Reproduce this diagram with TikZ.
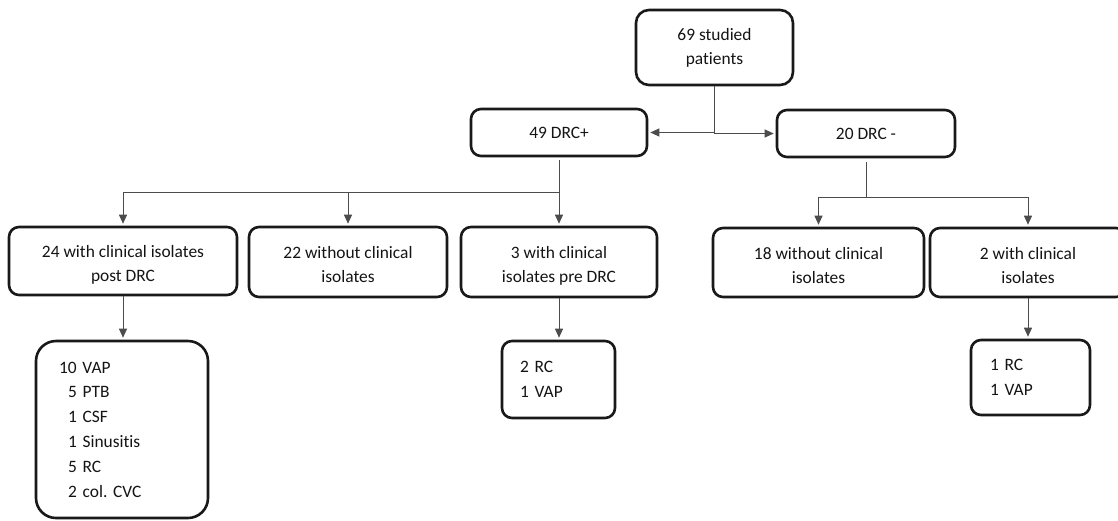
\documentclass[tikz,border=0pt]{standalone}
\usepackage{fontspec}
\setmainfont{Carlito}[Ligatures={NoCommon}]
\usetikzlibrary{arrows.meta}
\frenchspacing
\begin{document}
\begin{tikzpicture}[x=1pt,y=-1pt,
  box/.style={draw=black!90, line width=2.6pt, rounded corners=10pt, text=black!92,
    align=center, inner sep=0pt, font=\fontsize{17.4}{24}\selectfont},
  twoline/.style={box, text height=45pt, text depth=3.5pt},
  listbox/.style={box, align=left, font=\fontsize{17.4}{24.8}\selectfont},
  conn/.style={draw=black!70, line width=1pt},
  arr/.style={conn, -{Triangle[length=9pt,width=8pt]}, shorten >=2pt}]
\useasboundingbox[fill=white] (0,0) rectangle (1118,520);

% level 0
\node[box, rounded corners=13pt, minimum width=157pt, minimum height=75pt] (top) at (714.5,47.5) {69 studied\\patients};
% level 1
\node[box, minimum width=176pt, minimum height=47pt] (drcp) at (559,132.5) {49 DRC+};
\node[box, minimum width=178pt, minimum height=47pt] (drcm) at (866,133.5) {20 DRC -};
% level 2
\node[twoline, minimum width=228pt, minimum height=68pt] (n24) at (123,261) {24 with clinical isolates\\post DRC};
\node[twoline, minimum width=198pt, minimum height=70pt] (n22) at (348,262) {22 without clinical\\isolates};
\node[twoline, minimum width=196pt, minimum height=70pt] (n3) at (559,262) {3 with clinical\\isolates pre DRC};
\node[twoline, minimum width=211pt, minimum height=69pt] (n18) at (818.5,262.5) {18 without clinical\\isolates};
\node[twoline, minimum width=196pt, minimum height=69pt] (n2) at (1028,262.5) {2 with clinical\\isolates};
% level 3
\node[listbox, rounded corners=20pt, inner xsep=23pt, text width=126pt, minimum height=177pt] (l24) at (122,429.5)
  {10 VAP\\\hspace*{9pt}5 PTB\\\hspace*{9pt}1 CSF\\\hspace*{9pt}1 Sinusitis\\\hspace*{9pt}5 RC\\\hspace*{9pt}2 col.\ CVC};
\node[listbox, inner xsep=18pt, text width=77pt, minimum height=77pt] (l3) at (558.5,379.5) {2 RC\\1 VAP};
\node[listbox, inner xsep=19pt, text width=81pt, minimum height=75pt] (l2) at (1030.5,377.5) {1 RC\\1 VAP};

% connectors
\draw[arr] (top.south) |- (drcp.east);
\draw[arr] (top.south) |- (drcm.west);

\coordinate (b1) at (559,192);
\draw[arr, shorten <=3pt] (drcp.south) -- (n3.north);
\draw[arr] (b1) -| (n24.north);
\draw[arr] (b1) -| (n22.north);

\coordinate (b2) at (866,197);
\draw[conn, shorten <=4pt] (drcm.south) -- (b2);
\draw[arr] (b2) -| (n18.north);
\draw[arr] (b2) -| (n2.north);

\draw[arr] (n24.south) -- (n24.south |- l24.north);
\draw[arr] (n3.south) -- (n3.south |- l3.north);
\draw[arr] (n2.south) -- (n2.south |- l2.north);
\end{tikzpicture}
\end{document}
